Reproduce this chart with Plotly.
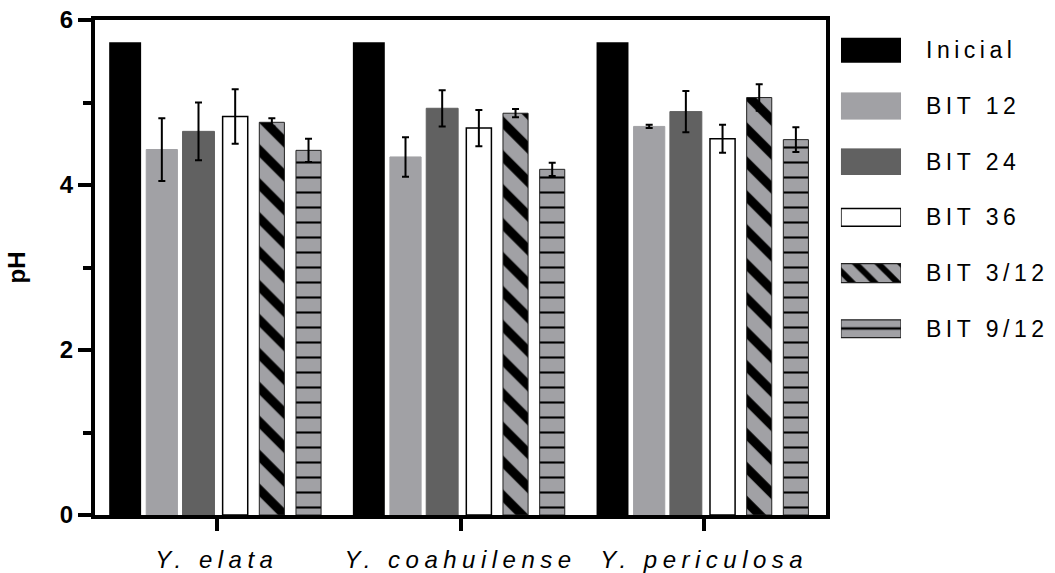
import plotly.graph_objects as go

# Daten
species = ["Y. elata", "Y. coahuilense", "Y. periculosa"]
treatments = ["Inicial", "BIT 12", "BIT 24", "BIT 36", "BIT 3/12", "BIT 9/12"]

ph_inicial = [5.73, 5.73, 5.73]
ph_bit12 = [4.43, 4.34, 4.71]
ph_bit24 = [4.65, 4.93, 4.89]
ph_bit36 = [4.83, 4.69, 4.56]
ph_bit3_12 = [4.76, 4.87, 5.06]
ph_bit9_12 = [4.42, 4.19, 4.55]

err_inicial = [0, 0, 0]
err_bit12 = [0.38, 0.24, 0.02]
err_bit24 = [0.35, 0.22, 0.25]
err_bit36 = [0.33, 0.22, 0.17]
err_bit3_12 = [0.05, 0.05, 0.16]
err_bit9_12 = [0.14, 0.08, 0.15]

y_ticks = [0, 2, 4, 6]

values = [ph_inicial, ph_bit12, ph_bit24, ph_bit36, ph_bit3_12, ph_bit9_12]
errors = [err_inicial, err_bit12, err_bit24, err_bit36, err_bit3_12, err_bit9_12]

# Stil pro Serie
fill = ["#000000", "#a1a1a5", "#616161", "#ffffff", "#a1a1a5", "#a1a1a5"]
line_col = ["#000000", "#a1a1a5", "#616161", "#000000", "#222222", "#222222"]
line_w = [0, 1, 1, 1.5, 1, 1]
shape = ["", "", "", "", "\\", "-"]
pat_size = [10, 10, 10, 10, 24, 15]
pat_sol = [0.3, 0.3, 0.3, 0.3, 0.38, 0.14]
bar_w = [0.131, 0.128, 0.131, 0.103, 0.103, 0.103]
# Legende
leg_h = [0.45, 0.47, 0.46, 0.32, 0.34, 0.32]
leg_size = [10, 10, 10, 10, 16, 12]
leg_sol = [0.3, 0.3, 0.3, 0.3, 0.38, 0.2]
leg_lw = [0, 1, 1, 1.5, 1.2, 1.2]

FONT = "Liberation Sans, Arial, sans-serif"


def spaced(txt, px):
    return '<span style="letter-spacing:%spx">%s</span>' % (px, txt)


fig = go.Figure()

for i, name in enumerate(treatments):
    fig.add_trace(go.Bar(
        x=species,
        y=values[i],
        name=name,
        width=bar_w[i],
        marker=dict(
            color=fill[i],
            line=dict(color=line_col[i], width=line_w[i]),
            pattern=dict(shape=shape[i], fgcolor="#000000", bgcolor=fill[i],
                         size=pat_size[i], solidity=pat_sol[i], fillmode="replace"),
        ),
        error_y=dict(type="data", array=errors[i], visible=any(e > 0 for e in errors[i]),
                     color="#000000", thickness=2, width=3.5),
        showlegend=False,
    ))

# eigene Legende als horizontale Balken auf zweiter Achse
for i, name in enumerate(treatments):
    fig.add_trace(go.Bar(
        x=[1],
        y=[name],
        orientation="h",
        width=leg_h[i],
        offset=-leg_h[i] / 2,
        xaxis="x2",
        yaxis="y2",
        marker=dict(
            color=fill[i],
            line=dict(color=line_col[i], width=leg_lw[i]),
            pattern=dict(shape=shape[i], fgcolor="#000000", bgcolor=fill[i],
                         size=leg_size[i], solidity=leg_sol[i], fillmode="replace"),
        ),
        showlegend=False,
        hoverinfo="skip",
    ))

fig.update_layout(
    width=1055,
    height=573,
    margin=dict(l=95, r=0, t=20, b=56),
    paper_bgcolor="white",
    plot_bgcolor="white",
    barmode="group",
    bargap=0.097,
    bargroupgap=0.128,
    showlegend=False,
    font=dict(family=FONT, color="black"),
    xaxis=dict(
        domain=[0, 0.7615],
        range=[-0.5, 2.5],
        tickvals=species,
        ticktext=[spaced(s, 5.5) for s in species],
        tickfont=dict(size=24, style="italic"),
        ticks="outside",
        ticklen=12,
        tickwidth=4,
        tickcolor="black",
        ticklabelstandoff=8,
        showline=True,
        linewidth=4,
        linecolor="black",
        mirror=True,
        showgrid=False,
        zeroline=False,
    ),
    yaxis=dict(
        range=[0, 6],
        tickvals=y_ticks,
        tickfont=dict(size=24, weight="bold"),
        ticks="outside",
        ticklen=13,
        tickwidth=4,
        tickcolor="black",
        minor=dict(ticks="outside", dtick=1, ticklen=8, tickwidth=4, tickcolor="black", showgrid=False),
        showline=True,
        linewidth=4,
        linecolor="black",
        mirror=True,
        showgrid=False,
        zeroline=False,
        title=dict(text="pH", font=dict(size=24, weight="bold"), standoff=28),
    ),
    xaxis2=dict(
        domain=[0.777, 0.8396],
        range=[0, 1],
        anchor="y2",
        visible=False,
        fixedrange=True,
    ),
    yaxis2=dict(
        domain=[0.32, 0.995],
        range=[len(treatments) - 0.5, -0.5],
        anchor="x2",
        side="right",
        tickvals=treatments,
        ticktext=[spaced(t, 4.5) for t in treatments],
        tickfont=dict(size=23),
        ticks="",
        ticklabelstandoff=24,
        showline=False,
        showgrid=False,
        zeroline=False,
        fixedrange=True,
    ),
)

# Body-Rand entfernen, damit die Figur bei (0,0) beginnt
fig.write_html("out.html", config={"displayModeBar": False},
               post_script="document.body.style.margin='0';")
